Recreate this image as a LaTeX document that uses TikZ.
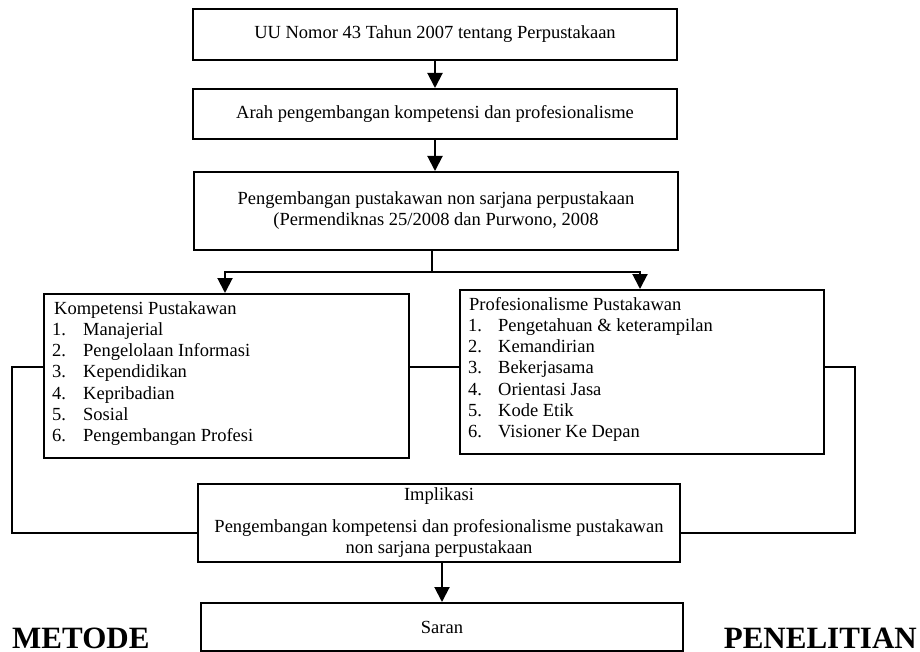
\documentclass[tikz,border=0pt]{standalone}
\usepackage{fontspec}
\setmainfont{Liberation Serif}
\usetikzlibrary{arrows.meta}
\begin{document}
\begin{tikzpicture}[x=1pt,y=-1pt,
  box/.style={draw, line width=2pt, rectangle, inner sep=0pt, align=center, font=\fontsize{18.5}{21}\selectfont},
  lst/.style={inner sep=0pt, anchor=base west, font=\fontsize{18.5}{21.3}\selectfont},
  big/.style={inner sep=0pt, font=\fontsize{31}{34}\selectfont\bfseries},
  conn/.style={line width=2pt},
  arr/.style={line width=2pt, -{Triangle[length=15pt,width=15pt]}}]
\useasboundingbox (0,0) rectangle (920,652);

\node[box, minimum width=484pt, minimum height=51pt] (uu) at (435,34.5) {UU Nomor 43 Tahun 2007 tentang Perpustakaan};
\node[box, minimum width=484pt, minimum height=50pt] (arah) at (435,114) {Arah pengembangan kompetensi dan profesionalisme};
\node[box, minimum width=484pt, minimum height=78pt] (dev) at (436,211) {Pengembangan pustakawan non sarjana perpustakaan\\(Permendiknas 25/2008 dan Purwono, 2008};
\node[box, minimum width=365pt, minimum height=164pt] (komp) at (226.5,376) {};
\node[box, minimum width=364pt, minimum height=164pt] (prof) at (642,372) {};
\node[box, minimum width=482pt, minimum height=78pt] (impl) at (439,523) {Implikasi\\[11pt]Pengembangan kompetensi dan profesionalisme pustakawan\\non sarjana perpustakaan};
\node[box, minimum width=482pt, minimum height=48pt] (saran) at (442,627) {\raisebox{-3pt}{Saran}};

\node[lst] (kt) at (54,314) {Kompetensi Pustakawan};
\foreach \t [count=\i] in {Manajerial, Pengelolaan Informasi, Kependidikan, Kepribadian, Sosial, Pengembangan Profesi}
  \node[lst] (k\i) at (52,314+21.3*\i) {\makebox[31pt][l]{\i.}\t};
\node[lst] (pt) at (469,310) {Profesionalisme Pustakawan};
\foreach \t [count=\i] in {Pengetahuan \& keterampilan, Kemandirian, Bekerjasama, Orientasi Jasa, Kode Etik, Visioner Ke Depan}
  \node[lst] (p\i) at (468,310+21.3*\i) {\makebox[30pt][l]{\i.}\t};

\node[big, anchor=base west] (metode) at (12,648) {METODE};
\node[big, anchor=base east] (penelitian) at (917,648) {PENELITIAN};

\coordinate (split) at (432,272);
\coordinate (midL) at (12,367);
\coordinate (lowL) at (12,533);
\coordinate (midR) at (855,367);
\coordinate (lowR) at (855,533);

\draw[arr] (uu.south) -- (arah.north);
\draw[arr] (arah.south) -- (arah.south |- dev.north);
\draw[conn] (dev.south -| split) -- (split);
\draw[arr] (split) -| ([xshift=-1.5pt]komp.north);
\draw[arr] (split) -| ([xshift=-2pt]prof.north);
\draw[conn] (komp.west |- midL) -- (midL) -- (lowL) -- (impl.west |- lowL);
\draw[conn] (prof.east |- midL) -- (midR) -- (lowR) -- (impl.east |- lowR);
\draw[conn] (komp.east |- midL) -- (prof.west |- midL);
\draw[arr] (saran.north |- impl.south) -- (saran.north);
\end{tikzpicture}
\end{document}
